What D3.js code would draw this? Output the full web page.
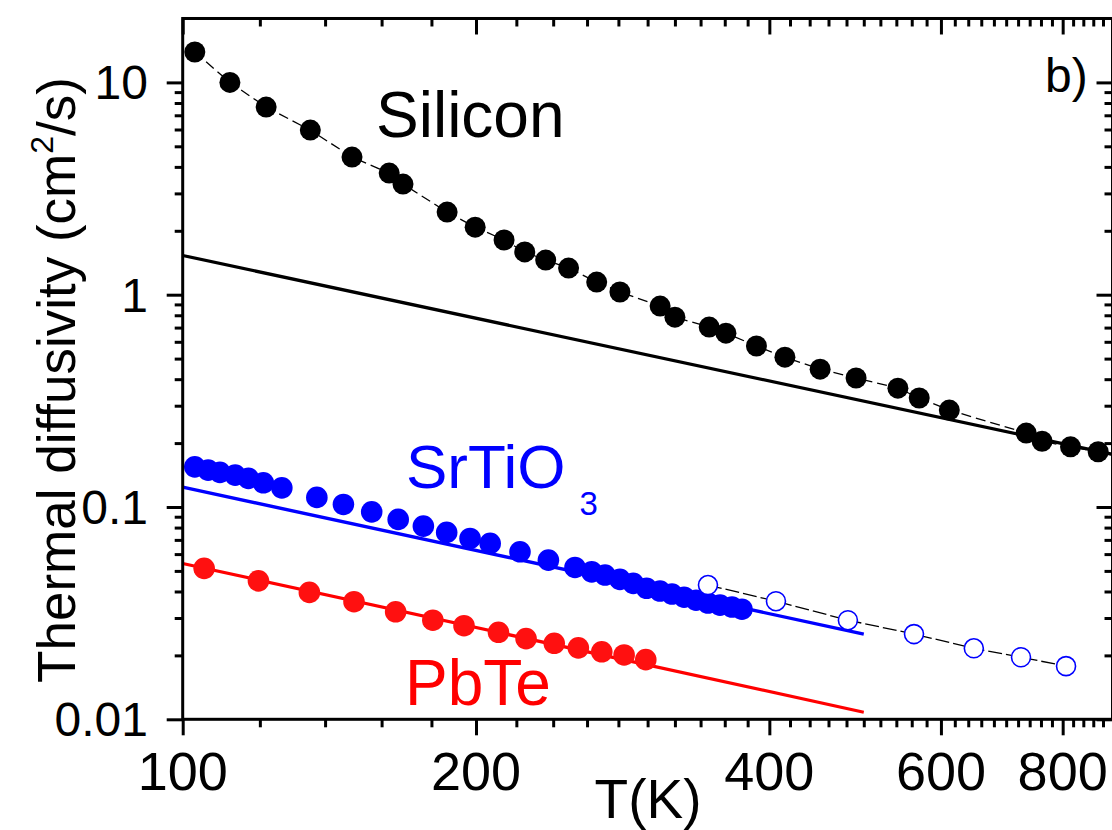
<!DOCTYPE html>
<html>
<head>
<meta charset="utf-8">
<script src="https://cdn.jsdelivr.net/npm/d3@7"></script>
<style>
  html, body { margin: 0; padding: 0; background: #fff; }
  svg { display: block; font-family: "Liberation Sans", Arial, sans-serif; }
</style>
</head>
<body>
<svg id="chart" width="1112" height="830"></svg>
<script>
// ---- data (T in K, thermal diffusivity in cm^2/s) ----
const siliconT = [102.9, 111.8, 121.8, 135.2, 149.2, 162.9, 168.3, 186.8, 199.6, 213.7, 224.4, 235.8, 248.9, 266.0, 281, 309, 320, 347, 361, 388, 415, 451, 491, 542, 570, 612, 734, 762, 815, 870];
const siliconD = [13.9, 10.0, 7.65, 5.96, 4.45, 3.74, 3.32, 2.45, 2.08, 1.81, 1.59, 1.455, 1.335, 1.147, 1.03, 0.884, 0.784, 0.704, 0.659, 0.573, 0.508, 0.446, 0.405, 0.363, 0.326, 0.286, 0.223, 0.204, 0.192, 0.182];
const siliconLineT = [100, 900];
const siliconLineD = [1.53, 0.177];

const srtioT = [102.9, 106.2, 109.2, 113.2, 116.8, 121.0, 126.4, 137.3, 146.2, 156.3, 166.4, 176.6, 186.6, 197.2, 206.8, 221.9, 237.3, 252.7, 262.9, 271.3, 281.0, 290.0, 299.3, 308.9, 317.8, 327.0, 336.4, 346.0, 356.0, 366.2, 374.9];
const srtioD = [0.1546, 0.1492, 0.1455, 0.1413, 0.1364, 0.1300, 0.1231, 0.1110, 0.1028, 0.0949, 0.0874, 0.0813, 0.0759, 0.0711, 0.0674, 0.0615, 0.0562, 0.0519, 0.0495, 0.0478, 0.0456, 0.0437, 0.0414, 0.0402, 0.0389, 0.0376, 0.0364, 0.0353, 0.0345, 0.0338, 0.0330];
const srtioOpenT = [346.0, 406.3, 481.6, 563.0, 648.5, 725.0, 806.4];
const srtioOpenD = [0.0429, 0.0360, 0.0293, 0.0252, 0.0216, 0.0196, 0.0178];
const srtioLineT = [100, 500];
const srtioLineD = [0.124, 0.0252];

const pbteT = [105.2, 119.6, 134.9, 149.9, 165.4, 180.6, 194.4, 210.9, 225.1, 240.6, 254.7, 269.2, 283.8, 298.7];
const pbteD = [0.0514, 0.0449, 0.0396, 0.0358, 0.0321, 0.0293, 0.0276, 0.0257, 0.0240, 0.0228, 0.0217, 0.0208, 0.0201, 0.0191];
const pbteLineT = [100, 500];
const pbteLineD = [0.0542, 0.0108];

const xMajorTicks = [100, 200, 400, 600, 800];
const yMajorTicks = [0.01, 0.1, 1, 10];
const yTickLabels = ["0.01", "0.1", "1", "10"];

// ---- layout ----
const svg = d3.select("#chart");
const x0 = 182.7, decX = 974.4;
const yBottom = 719.3, decY = 212.3;
const x = d3.scaleLog().domain([100, 900]).range([x0, x0 + decX * Math.log10(9)]);
const y = d3.scaleLog().domain([0.01, 20]).range([yBottom, yBottom - decY * Math.log10(2000)]);
const [xl, xr] = x.range();
const [yb, yt] = y.range();

const zip = (a, b) => a.map((v, i) => [v, b[i]]);
const line = d3.line().x(d => x(d[0])).y(d => y(d[1]));

// minor ticks
const xMinor = [].concat(d3.range(120, 200, 20), d3.range(220, 400, 20), d3.range(420, 600, 20),
                         d3.range(620, 800, 20), d3.range(820, 900, 20));
const yMinor = y.ticks().filter(v => !yMajorTicks.some(m => Math.abs(m - v) / m < 1e-6) && v < 19.9);

const axW = 3;
const majL = 16, minL = 8;

// ---- data marks ----
svg.append("defs").append("clipPath").attr("id", "plot")
  .append("rect").attr("x", xl).attr("y", yt).attr("width", xr - xl).attr("height", yb - yt);
const g = svg.append("g").attr("clip-path", "url(#plot)");

// fitted lines
g.append("path").datum(zip(siliconLineT, siliconLineD)).attr("d", line)
  .attr("fill", "none").attr("stroke", "#000").attr("stroke-width", 3.2);
g.append("path").datum(zip(srtioLineT, srtioLineD)).attr("d", line)
  .attr("fill", "none").attr("stroke", "#0000ff").attr("stroke-width", 3.4);
g.append("path").datum(zip(pbteLineT, pbteLineD)).attr("d", line)
  .attr("fill", "none").attr("stroke", "#ff0000").attr("stroke-width", 3.2);

// dashed connectors
g.append("path").datum(zip(siliconT, siliconD)).attr("d", line)
  .attr("fill", "none").attr("stroke", "#000").attr("stroke-width", 1.3).attr("stroke-dasharray", "10,5");
g.append("path").datum(zip(srtioOpenT, srtioOpenD)).attr("d", line)
  .attr("fill", "none").attr("stroke", "#000").attr("stroke-width", 1.3).attr("stroke-dasharray", "14,4");

// points
g.selectAll(".si").data(zip(siliconT, siliconD)).join("circle")
  .attr("cx", d => x(d[0])).attr("cy", d => y(d[1])).attr("r", 10.5).attr("fill", "#000");
g.selectAll(".pb").data(zip(pbteT, pbteD)).join("circle")
  .attr("cx", d => x(d[0])).attr("cy", d => y(d[1])).attr("r", 10.8).attr("fill", "#ff1010");
g.selectAll(".sr").data(zip(srtioT, srtioD)).join("circle")
  .attr("cx", d => x(d[0])).attr("cy", d => y(d[1])).attr("r", 10.8).attr("fill", "#0000ff");
g.selectAll(".sro").data(zip(srtioOpenT, srtioOpenD)).join("circle")
  .attr("cx", d => x(d[0])).attr("cy", d => y(d[1])).attr("r", 9.5)
  .attr("fill", "#fff").attr("stroke", "#0000ff").attr("stroke-width", 1.6);

// ---- axes ----
function styleAxis(sel) {
  sel.select(".domain").remove();
  sel.selectAll(".tick line").attr("stroke", "#000").attr("stroke-width", axW);
  sel.selectAll("text").remove();
}
// bottom (outward)
svg.append("g").attr("transform", `translate(0,${yb})`)
  .call(d3.axisBottom(x).tickValues(xMajorTicks).tickSizeInner(majL).tickSizeOuter(0)).call(styleAxis);
svg.append("g").attr("transform", `translate(0,${yb})`)
  .call(d3.axisBottom(x).tickValues(xMinor).tickSizeInner(minL).tickSizeOuter(0)).call(styleAxis);
// top (inward)
svg.append("g").attr("transform", `translate(0,${yt})`)
  .call(d3.axisBottom(x).tickValues(xMajorTicks).tickSizeInner(majL).tickSizeOuter(0)).call(styleAxis);
svg.append("g").attr("transform", `translate(0,${yt})`)
  .call(d3.axisBottom(x).tickValues(xMinor).tickSizeInner(minL).tickSizeOuter(0)).call(styleAxis);
// left (outward)
svg.append("g").attr("transform", `translate(${xl},0)`)
  .call(d3.axisLeft(y).tickValues(yMajorTicks).tickSizeInner(majL).tickSizeOuter(0)).call(styleAxis);
svg.append("g").attr("transform", `translate(${xl},0)`)
  .call(d3.axisLeft(y).tickValues(yMinor).tickSizeInner(minL).tickSizeOuter(0)).call(styleAxis);
// right (inward)
svg.append("g").attr("transform", `translate(${xr},0)`)
  .call(d3.axisLeft(y).tickValues(yMajorTicks).tickSizeInner(majL).tickSizeOuter(0)).call(styleAxis);
svg.append("g").attr("transform", `translate(${xr},0)`)
  .call(d3.axisLeft(y).tickValues(yMinor).tickSizeInner(minL).tickSizeOuter(0)).call(styleAxis);

// frame
svg.append("rect").attr("x", xl).attr("y", yt).attr("width", xr - xl).attr("height", yb - yt)
  .attr("fill", "none").attr("stroke", "#000").attr("stroke-width", axW);

// tick labels
svg.append("g").selectAll("text").data(xMajorTicks).join("text")
  .attr("x", d => x(d)).attr("y", 790).attr("text-anchor", "middle")
  .attr("font-size", 54).attr("fill", "#000").text(d => d);
svg.append("g").selectAll("text").data(yMajorTicks).join("text")
  .attr("x", 148).attr("y", d => y(d)).attr("dy", "0.35em").attr("text-anchor", "end")
  .attr("font-size", 48).attr("fill", "#000").text((d, i) => yTickLabels[i]);

// axis titles
svg.append("text").attr("x", 648).attr("y", 818).attr("text-anchor", "middle")
  .attr("font-size", 55).attr("fill", "#000").text("T(K)");
const yt1 = svg.append("text").attr("transform", "translate(75,380) rotate(-90)")
  .attr("text-anchor", "middle").attr("font-size", 53).attr("fill", "#000");
yt1.append("tspan").text("Thermal diffusivity (cm");
yt1.append("tspan").attr("font-size", 32).attr("dy", -22).text("2");
yt1.append("tspan").attr("dy", 22).text("/s)");

// series labels
svg.append("text").attr("x", 376).attr("y", 137).attr("font-size", 64).attr("fill", "#000").text("Silicon");
const sr = svg.append("text").attr("x", 406).attr("y", 488).attr("font-size", 62).attr("fill", "#0000ff");
sr.append("tspan").text("SrTiO");
sr.append("tspan").attr("font-size", 33).attr("dy", 27).attr("dx", 14).text("3");
svg.append("text").attr("x", 405).attr("y", 705).attr("font-size", 64).attr("fill", "#ff0000").text("PbTe");
svg.append("text").attr("x", 1045).attr("y", 92).attr("font-size", 48).attr("fill", "#000").text("b)");
</script>
</body>
</html>
